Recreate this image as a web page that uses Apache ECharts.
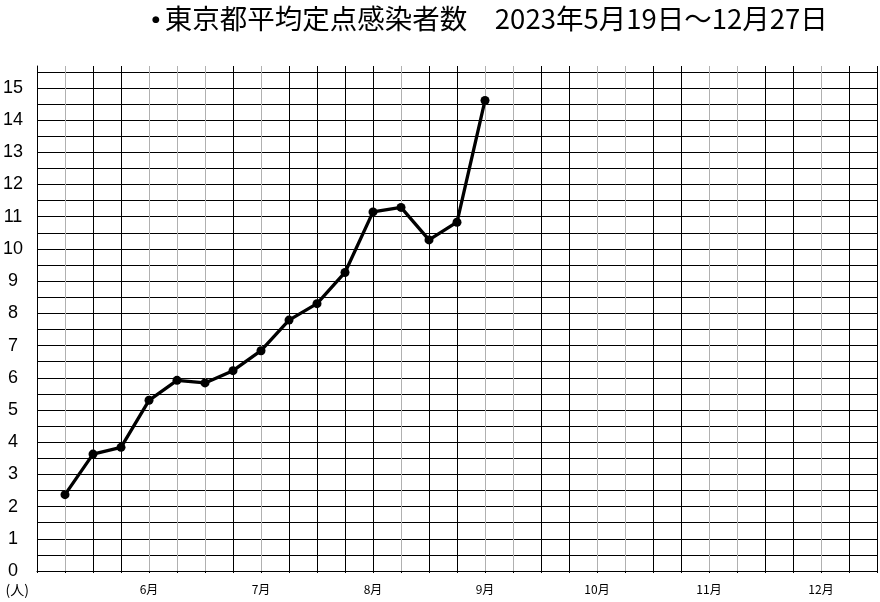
<!DOCTYPE html>
<html>
<head>
<meta charset="utf-8">
<script src="https://cdn.jsdelivr.net/npm/echarts@6/dist/echarts.min.js"></script>
<style>
html,body{margin:0;padding:0;background:#fff;}
#c{width:880px;height:602px;}
</style>
</head>
<body>
<div id="c"></div>
<script>
// weekly categories (x axis)
const weeks = ['5/12','5/19','5/26','6/2','6/9','6/16','6/23','6/30','7/7','7/14','7/21','7/28',
  '8/4','8/11','8/18','8/25','9/1','9/8','9/15','9/22','9/29','10/6','10/13','10/20','10/27',
  '11/3','11/10','11/17','11/24','12/1','12/8'];
// tick labels shown under the x axis
const xTickLabels = ['','','','','6月','','','','7月','','','','8月','','','','9月','','','',
  '10月','','','','11月','','','','12月','',''];
// 東京都平均定点感染者数 (first value at week 5/19)
const firstWeek = 1;
const values = [2.37, 3.63, 3.84, 5.30, 5.92, 5.84, 6.22, 6.84, 7.79, 8.30, 9.27, 11.15, 11.29, 10.28, 10.83, 14.61];
// y axis labels
const yTickLabels = ['0','1','2','3','4','5','6','7','8','9','10','11','12','13','14','15'];

const seriesData = weeks.map((w, i) => {
  const k = i - firstWeek;
  return (k >= 0 && k < values.length) ? values[k] : null;
});

const vColors = ['#000','#b0b0b0','#000','#000','#b0b0b0','#b0b0b0','#b0b0b0','#000','#b0b0b0','#000',
  '#000','#000','#000','#b0b0b0','#000','#000','#b0b0b0','#b0b0b0','#000','#000','#b0b0b0','#b0b0b0',
  '#000','#000','#b0b0b0','#b0b0b0','#000','#000','#b0b0b0','#000','#000'];

const chart = echarts.init(document.getElementById('c'), null, {renderer: 'canvas'});
chart.setOption({
  animation: false,
  backgroundColor: '#fff',
  title: {
    text: '{b|●}東京都平均定点感染者数　2023年5月19日～12月27日',
    left: 147,
    top: 0,
    textStyle: {
      fontFamily: '"Noto Sans CJK JP", sans-serif',
      fontSize: 27.5,
      fontWeight: 'normal',
      color: '#000',
      rich: {
        b: {
          fontFamily: '"DejaVu Sans", sans-serif',
          fontSize: 9,
          color: '#000',
          verticalAlign: 'middle',
          padding: [2, 5, 0, 0]
        }
      }
    }
  },
  grid: {left: 35, right: 3, top: 66, bottom: 31, containLabel: false},
  xAxis: {
    type: 'category',
    data: weeks,
    boundaryGap: false,
    axisLine: {show: true, lineStyle: {color: '#000', width: 1}},
    axisTick: {show: true, interval: 0, length: 2, lineStyle: {color: '#000'}},
    axisLabel: {
      interval: 0,
      margin: 12,
      fontSize: 12,
      color: '#000',
      fontFamily: '"Noto Sans CJK JP", sans-serif',
      formatter: (v, i) => xTickLabels[i]
    },
    splitLine: {show: true, interval: 0, lineStyle: {color: vColors, width: 1}}
  },
  yAxis: {
    type: 'value',
    min: 0,
    max: 15.68,
    interval: 0.5,
    name: '(人)',
    nameLocation: 'start',
    nameGap: 12,
    nameTextStyle: {
      fontSize: 14,
      color: '#000',
      fontFamily: '"Noto Sans CJK JP", sans-serif',
      align: 'right',
      padding: [0, 8, 0, 0]
    },
    axisLine: {show: true, lineStyle: {color: '#000', width: 1}},
    axisTick: {show: false},
    axisLabel: {
      margin: 24,
      align: 'center',
      fontSize: 18,
      color: '#000',
      padding: [0, 0, 4, 0],
      fontFamily: '"Liberation Sans Narrow", "Liberation Sans", sans-serif',
      formatter: (v) => {
        const r = Math.round(v);
        return Math.abs(v - r) < 1e-6 && r < yTickLabels.length ? yTickLabels[r] : '';
      }
    },
    splitLine: {show: true, showMaxLine: false, lineStyle: {color: '#000', width: 1}}
  },
  series: [{
    type: 'line',
    data: seriesData,
    connectNulls: false,
    symbol: 'circle',
    symbolSize: 9,
    lineStyle: {color: '#000', width: 3.3},
    itemStyle: {color: '#000'},
    z: 5
  }]
});
</script>
</body>
</html>
